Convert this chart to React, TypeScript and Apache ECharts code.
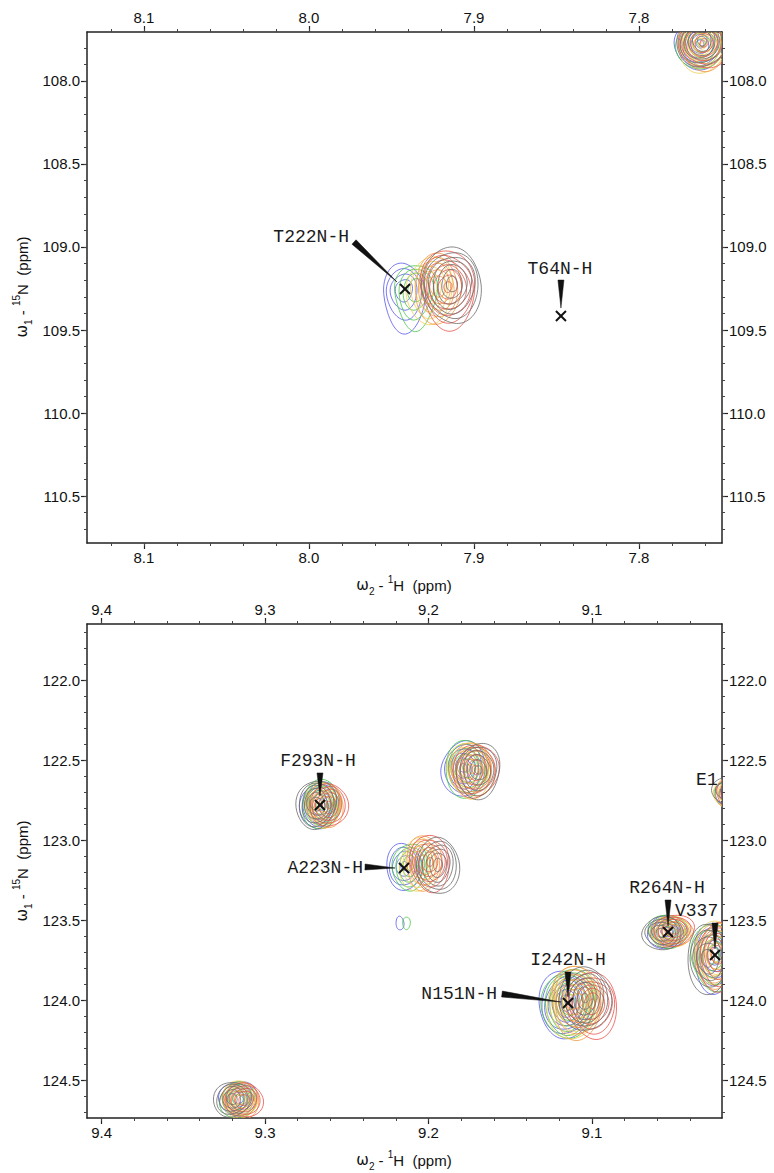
import React, { useEffect, useRef } from "react";
import * as echarts from "echarts";

// ---------------- axis ranges / ticks (ppm) ----------------
const TOP_H_RANGE = [7.7497, 8.1345];
const TOP_N_RANGE = [107.705, 110.783];
const BOT_H_RANGE = [9.0205, 9.4089];
const BOT_N_RANGE = [121.65, 124.7375];

const TOP_H_LABELS = [7.8, 7.9, 8.0, 8.1];
const TOP_N_LABELS = [108.0, 108.5, 109.0, 109.5, 110.0, 110.5];
const BOT_H_LABELS = [9.1, 9.2, 9.3, 9.4];
const BOT_N_LABELS = [122.0, 122.5, 123.0, 123.5, 124.0, 124.5];

// spectra order: blue, green, yellow, orange, red, gray
const SPECTRUM_COLORS = ["#5a5aee", "#48c848", "#f0cf52", "#f29a46", "#e8564e", "#6c6c6c"];

// ---------------- peaks: centre (1H, 15N) per spectrum ----------------
const t222Centers = [[7.9424, 109.259], [7.9352, 109.259], [7.9267, 109.241], [7.9218, 109.235], [7.9158, 109.241], [7.9133, 109.223]];
const t222Heights = [4.3, 4.3, 5.0, 5.3, 6.5, 6.8];
const t222Tails = [0.75, 0.6, 0.3, 0.2, 0.15, 0.1];
const t222Sigma = [0.0064, 0.082];

const p108Centers = [[7.763, 107.777], [7.7624, 107.771], [7.7618, 107.789], [7.7612, 107.777], [7.7606, 107.771], [7.7618, 107.759]];
const p108Heights = [5.5, 5.5, 5.4, 5.4, 5.5, 5.6];
const p108Tails = [0.1, 0.1, 0.1, 0.1, 0.1, 0.1];
const p108Sigma = [0.0064, 0.062];

const f293Centers = [[9.2664, 122.781], [9.2657, 122.775], [9.2645, 122.775], [9.2633, 122.781], [9.2609, 122.781], [9.2688, 122.775]];
const f293Heights = [6.0, 6.0, 5.5, 5.5, 5.5, 6.2];
const f293Tails = [0.05, 0.05, 0.05, 0.05, 0.05, 0.05];
const f293Sigma = [0.0048, 0.058];

const a223Centers = [[9.215, 123.1625], [9.2113, 123.1625], [9.2064, 123.15], [9.2028, 123.1375], [9.1991, 123.1375], [9.1942, 123.156]];
const a223Heights = [4.5, 4.5, 5.0, 5.0, 5.5, 5.8];
const a223Tails = [0.1, 0.1, 0.1, 0.1, 0.1, 0.1];
const a223Sigma = [0.0052, 0.072];

const speckCenters = [[9.2175, 123.52], [9.2135, 123.52], [9.215, 123.52], [9.215, 123.52], [9.215, 123.52], [9.215, 123.52]];
const speckHeights = [1.3, 1.2, 0, 0, 0, 0];
const speckTails = [0, 0, 0, 0, 0, 0];
const speckSigma = [0.003, 0.055];

const p1225Centers = [[9.1786, 122.55], [9.1768, 122.55], [9.175, 122.556], [9.1732, 122.556], [9.1713, 122.562], [9.1695, 122.562]];
const p1225Heights = [5.5, 5.5, 5.5, 5.5, 5.5, 5.5];
const p1225Tails = [0.1, 0.1, 0.1, 0.1, 0.1, 0.1];
const p1225Sigma = [0.0058, 0.07];

const i242Centers = [[9.1159, 124.019], [9.1141, 124.0125], [9.1116, 124.0125], [9.1092, 124.006], [9.1, 124.025], [9.1043, 123.9875]];
const i242Heights = [7.0, 7.0, 7.0, 7.0, 6.5, 6.5];
const i242Tails = [0.1, 0.1, 0.1, 0.1, 0.1, 0.1];
const i242Sigma = [0.0058, 0.075];

const r264Centers = [[9.0541, 123.575], [9.0535, 123.569], [9.0517, 123.569], [9.0511, 123.575], [9.0498, 123.5625], [9.0572, 123.581]];
const r264Heights = [5.0, 5.0, 4.8, 4.8, 4.8, 5.0];
const r264Tails = [0.05, 0.05, 0.05, 0.05, 0.05, 0.05];
const r264Sigma = [0.0058, 0.045];

const v337Centers = [[9.0254, 123.725], [9.026, 123.719], [9.0242, 123.7], [9.0235, 123.706], [9.0229, 123.719], [9.0291, 123.7375]];
const v337Heights = [5.0, 5.0, 5.0, 5.0, 5.0, 5.0];
const v337Tails = [0.15, 0.15, 0.15, 0.15, 0.15, 0.15];
const v337Sigma = [0.006, 0.09];

const p1246Centers = [[9.3165, 124.6125], [9.3165, 124.625], [9.3153, 124.619], [9.3147, 124.625], [9.3128, 124.625], [9.3202, 124.619]];
const p1246Heights = [5.0, 5.0, 5.0, 5.0, 5.0, 5.0];
const p1246Tails = [0.05, 0.05, 0.05, 0.05, 0.05, 0.05];
const p1246Sigma = [0.0052, 0.05];

const e1Centers = [[9.0175, 122.71], [9.018, 122.71], [9.0165, 122.7], [9.016, 122.7], [9.0155, 122.71], [9.0185, 122.69]];
const e1Heights = [2.2, 2.2, 3.0, 3.0, 2.8, 2.6];
const e1Tails = [0.1, 0.1, 0.1, 0.1, 0.1, 0.1];
const e1Sigma = [0.006, 0.06];

const PEAKS = [
  { grid: 0, centers: t222Centers, heights: t222Heights, tails: t222Tails, sigma: t222Sigma, phase: 0.4 },
  { grid: 0, centers: p108Centers, heights: p108Heights, tails: p108Tails, sigma: p108Sigma, phase: 1.9 },
  { grid: 1, centers: f293Centers, heights: f293Heights, tails: f293Tails, sigma: f293Sigma, phase: 2.7 },
  { grid: 1, centers: a223Centers, heights: a223Heights, tails: a223Tails, sigma: a223Sigma, phase: 0.9 },
  { grid: 1, centers: speckCenters, heights: speckHeights, tails: speckTails, sigma: speckSigma, phase: 0.5 },
  { grid: 1, centers: p1225Centers, heights: p1225Heights, tails: p1225Tails, sigma: p1225Sigma, phase: 3.3 },
  { grid: 1, centers: i242Centers, heights: i242Heights, tails: i242Tails, sigma: i242Sigma, phase: 1.2 },
  { grid: 1, centers: r264Centers, heights: r264Heights, tails: r264Tails, sigma: r264Sigma, phase: 4.1 },
  { grid: 1, centers: v337Centers, heights: v337Heights, tails: v337Tails, sigma: v337Sigma, phase: 5.0 },
  { grid: 1, centers: p1246Centers, heights: p1246Heights, tails: p1246Tails, sigma: p1246Sigma, phase: 2.2 },
  { grid: 1, centers: e1Centers, heights: e1Heights, tails: e1Tails, sigma: e1Sigma, phase: 0.2 },
];

// ---------------- assignment labels ----------------
const LABEL_TEXTS = ["T222N-H", "T64N-H", "F293N-H", "A223N-H", "I242N-H", "N151N-H", "R264N-H", "V337", "E1"];
const LABEL_GRIDS = [0, 0, 1, 1, 1, 1, 1, 1, 1];
const LABEL_ANCHORS = [
  [7.9418, 109.253], [7.8473, 109.416], [9.2664, 122.781], [9.215, 123.175],
  [9.1147, 124.019], [9.1147, 124.019], [9.0535, 123.575], [9.0248, 123.719], [9.018, 122.706],
];
// pixel layout of each label relative to its anchor
const LABEL_LAYOUT = [
  { dx: -56, dy: -52, align: "right", wedge: [-51, -47, -8, -7], cross: true },
  { dx: -1, dy: -47, align: "center", wedge: [0, -36, 0, -8], cross: true },
  { dx: -2, dy: -44, align: "center", wedge: [0, -32, 0, -9], cross: true },
  { dx: -41, dy: 0, align: "right", wedge: [-39, -1, -9, 0], cross: true },
  { dx: 0, dy: -43, align: "center", wedge: [0, -31, 0, -6], cross: true },
  { dx: -71, dy: -9, align: "right", wedge: [-66, -9, -7, -1], cross: false },
  { dx: -1, dy: -44, align: "center", wedge: [0, -32, 0, -6], cross: true },
  { dx: -40, dy: -44, align: "left", wedge: [0, -32, 0, -6], cross: true },
  { dx: -30, dy: -13, align: "left", wedge: null, cross: false },
];

function steps(a: number, b: number, st: number) {
  const out: number[] = [];
  const n = Math.round((b - a) / st);
  for (let i = 0; i <= n; i++) out.push(+(a + i * st).toFixed(3));
  return out;
}
const TOP_H_MINOR = steps(7.76, 8.12, 0.02);
const TOP_N_MINOR = steps(107.8, 110.7, 0.1);
const BOT_H_MINOR = steps(9.04, 9.4, 0.02);
const BOT_N_MINOR = steps(121.7, 124.7, 0.1);

const SANS = "Liberation Sans";
const MONO = "Liberation Mono";

function makeAxes(gridIndex: number, range: number[], labels: number[], minors: number[], positions: string[]) {
  const base = { type: "value", gridIndex, min: range[0], max: range[1], inverse: true, splitLine: { show: false } };
  const major = (position: string) => ({
    ...base,
    position,
    axisLine: { show: true, onZero: false, lineStyle: { color: "#222", width: 1.5 } },
    axisTick: { show: true, inside: false, length: 6, customValues: labels, lineStyle: { color: "#222", width: 1.2 } },
    axisLabel: { show: true, customValues: labels, formatter: (v: number) => v.toFixed(1), margin: 7, fontFamily: SANS, fontSize: 15, color: "#111" },
  });
  const minor = (position: string) => ({
    ...base,
    position,
    axisLine: { show: false, onZero: false },
    axisTick: { show: true, inside: false, length: 3, customValues: minors, lineStyle: { color: "#444", width: 1 } },
    axisLabel: { show: false },
  });
  return [major(positions[0]), major(positions[1]), minor(positions[0]), minor(positions[1])];
}

function contourData(grid: number) {
  const out: number[][] = [];
  PEAKS.filter((p) => p.grid === grid).forEach((p) => {
    p.centers.forEach((c, s) => {
      if (p.heights[s] > 0) out.push([c[0], c[1], p.sigma[0], p.sigma[1], p.heights[s], s, p.tails[s], p.phase + s * 1.3]);
    });
  });
  return out;
}

function renderContour(_params: any, api: any) {
  const c = api.coord([api.value(0), api.value(1)]);
  const s = api.size([api.value(2), api.value(3)]);
  const h = api.value(4);
  const ci = api.value(5);
  const tail = api.value(6);
  const ph = api.value(7);
  const children: any[] = [];
  const top = Math.pow(h, 0.75);
  for (let i = 0; h - i > 0.35; i++) {
    const f = 0.65 * Math.pow(h - i, 0.75);
    const rel = Math.pow(h - i, 0.75) / top;
    const tl = tail * rel * rel;
    const pts: number[][] = [];
    const N = 40;
    for (let k = 0; k < N; k++) {
      const t = (k / N) * Math.PI * 2;
      const w = 1 + 0.05 * Math.sin(2 * t + ph + i * 0.7) + 0.035 * Math.sin(3 * t + ph * 1.7 - i);
      const ct = Math.cos(t);
      const st = Math.sin(t);
      const down = st > 0 ? 1 + tl * st : 1;
      pts.push([c[0] + s[0] * f * ct * w, c[1] + s[1] * f * st * w * down]);
    }
    children.push({
      type: "polygon",
      silent: true,
      shape: { points: pts, smooth: 0.35 },
      style: { fill: "none", stroke: SPECTRUM_COLORS[ci], lineWidth: 0.9, opacity: 0.9 },
    });
  }
  return { type: "group", children };
}

function labelData(grid: number) {
  const out: number[][] = [];
  LABEL_ANCHORS.forEach((a, i) => {
    if (LABEL_GRIDS[i] === grid) out.push([a[0], a[1], i]);
  });
  return out;
}

function renderLabel(_params: any, api: any) {
  const c = api.coord([api.value(0), api.value(1)]);
  const idx = api.value(2);
  const L = LABEL_LAYOUT[idx];
  const children: any[] = [];
  children.push({
    type: "text",
    x: c[0] + L.dx,
    y: c[1] + L.dy,
    style: { text: LABEL_TEXTS[idx], fill: "#1a1a1a", fontFamily: MONO, fontSize: 18, align: L.align, verticalAlign: "middle" },
  });
  if (L.wedge) {
    const [x1, y1, x2, y2] = L.wedge;
    const len = Math.hypot(x2 - x1, y2 - y1) || 1;
    const nx = -(y2 - y1) / len;
    const ny = (x2 - x1) / len;
    const hw = 3;
    children.push({
      type: "polygon",
      shape: { points: [[c[0] + x1 + nx * hw, c[1] + y1 + ny * hw], [c[0] + x1 - nx * hw, c[1] + y1 - ny * hw], [c[0] + x2, c[1] + y2]] },
      style: { fill: "#111", stroke: "#111", lineWidth: 0.5 },
    });
  }
  if (L.cross) {
    const r = 5;
    children.push({ type: "line", shape: { x1: c[0] - r, y1: c[1] - r, x2: c[0] + r, y2: c[1] + r }, style: { stroke: "#111", lineWidth: 2 } });
    children.push({ type: "line", shape: { x1: c[0] - r, y1: c[1] + r, x2: c[0] + r, y2: c[1] - r }, style: { stroke: "#111", lineWidth: 2 } });
  }
  return { type: "group", children };
}

const titleRich = {
  g: { fontFamily: "DejaVu Sans", fontSize: 15, lineHeight: 22, fill: "#111" },
  t: { fontFamily: SANS, fontSize: 15, lineHeight: 22, fill: "#111" },
  s: { fontFamily: SANS, fontSize: 10, verticalAlign: "bottom", fill: "#111" },
  p: { fontFamily: SANS, fontSize: 10, verticalAlign: "top", fill: "#111" },
};
const H_TITLE = "{g|ω}{s|2}{t| - }{p|1}{t|H  (ppm)}";
const N_TITLE = "{g|ω}{s|1}{t| - }{p|15}{t|N  (ppm)}";

export default function App() {
  const ref = useRef<HTMLDivElement>(null);
  useEffect(() => {
    if (!ref.current) return;
    const chart = echarts.init(ref.current, undefined, { renderer: "svg" });
    const option: any = {
      animation: false,
      backgroundColor: "#ffffff",
      grid: [
        { left: 87, top: 32, width: 635, height: 511, containLabel: false, outerBoundsMode: "none" },
        { left: 87, top: 624, width: 635, height: 494, containLabel: false, outerBoundsMode: "none" },
      ],
      xAxis: [
        ...makeAxes(0, TOP_H_RANGE, TOP_H_LABELS, TOP_H_MINOR, ["bottom", "top"]),
        ...makeAxes(1, BOT_H_RANGE, BOT_H_LABELS, BOT_H_MINOR, ["bottom", "top"]),
      ],
      yAxis: [
        ...makeAxes(0, TOP_N_RANGE, TOP_N_LABELS, TOP_N_MINOR, ["left", "right"]),
        ...makeAxes(1, BOT_N_RANGE, BOT_N_LABELS, BOT_N_MINOR, ["left", "right"]),
      ],
      series: [
        { type: "custom", name: "contours-top", xAxisIndex: 0, yAxisIndex: 0, clip: true, silent: true, renderItem: renderContour, data: contourData(0), z: 2 },
        { type: "custom", name: "contours-bottom", xAxisIndex: 4, yAxisIndex: 4, clip: true, silent: true, renderItem: renderContour, data: contourData(1), z: 2 },
        { type: "custom", name: "labels-top", xAxisIndex: 0, yAxisIndex: 0, clip: true, silent: true, renderItem: renderLabel, data: labelData(0), z: 3 },
        { type: "custom", name: "labels-bottom", xAxisIndex: 4, yAxisIndex: 4, clip: true, silent: true, renderItem: renderLabel, data: labelData(1), z: 3 },
      ],
      graphic: [
        { type: "text", x: 404, y: 585, style: { text: H_TITLE, rich: titleRich, align: "center", verticalAlign: "middle" } },
        { type: "text", x: 404, y: 1160, style: { text: H_TITLE, rich: titleRich, align: "center", verticalAlign: "middle" } },
        { type: "text", x: 22, y: 287, rotation: Math.PI / 2, style: { text: N_TITLE, rich: titleRich, align: "center", verticalAlign: "middle" } },
        { type: "text", x: 22, y: 871, rotation: Math.PI / 2, style: { text: N_TITLE, rich: titleRich, align: "center", verticalAlign: "middle" } },
      ],
    };
    chart.setOption(option);
    return () => chart.dispose();
  }, []);
  return <div ref={ref} style={{ position: "absolute", left: 0, top: 0, width: 774, height: 1173 }} />;
}
